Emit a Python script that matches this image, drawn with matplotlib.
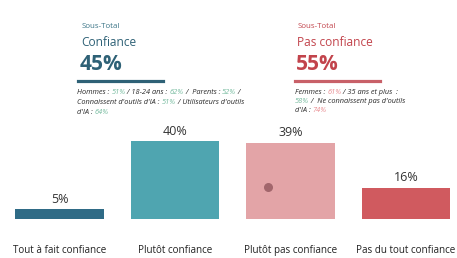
import matplotlib
matplotlib.use("Agg")
import matplotlib.pyplot as plt

categories = [
    "Tout à fait confiance",
    "Plutôt confiance",
    "Plutôt pas confiance",
    "Pas du tout confiance",
]
values = [5, 40, 39, 16]
value_labels = ["5%", "40%", "39%", "16%"]
bar_colors = ["#2f6b86", "#4fa5b0", "#e3a4a7", "#d05a5f"]

left_title = ["Sous-Total", "Confiance", "45%"]
right_title = ["Sous-Total", "Pas confiance", "55%"]

# note lines: list of (text, is_percentage) segments
left_notes = [
    [("Hommes : ", False), ("51%", True), (" / 18-24 ans : ", False), ("62%", True),
     (" /  Parents : ", False), ("52%", True), (" /", False)],
    [("Connaissent d'outils d'IA : ", False), ("51%", True),
     (" / Utilisateurs d'outils", False)],
    [("d'IA : ", False), ("64%", True)],
]
right_notes = [
    [("Femmes : ", False), ("61%", "pink"), (" / 35 ans et plus  :", False)],
    [("58%", True), (" /  Ne connaissent pas d'outils", False)],
    [("d'IA : ", False), ("74%", "pink")],
]

W, H = 457, 258
FONT = ["Open Sans", "DejaVu Sans"]

fig = plt.figure(figsize=(W / 100, H / 100), dpi=100)
fig.patch.set_facecolor("white")

# bar axes: baseline at 219 px from top, 1.95 px per percent
base_px = 219
ax = fig.add_axes([0, (H - base_px) / H, 1, base_px / H])
step = 115.5
x0 = 59.5
ax.set_xlim(-x0 / step, (W - x0) / step)
ax.set_ylim(0, base_px / 1.95)
ax.axis("off")

xs = list(range(len(categories)))
bars = ax.bar(xs, values, width=0.77, color=bar_colors)
for b, lab in zip(bars, value_labels):
    ax.annotate(lab, (b.get_x() + b.get_width() / 2, b.get_height()),
                xytext=(0, 2.5), textcoords="offset points",
                ha="center", va="bottom", fontsize=9, color="#333333",
                family=FONT)
for x, cat in zip(xs, categories):
    ax.annotate(cat, (x, 0), xytext=(0, -22.5), textcoords="offset points",
                ha="center", va="center", fontsize=7.1, color="#222222",
                family=FONT)

# small dot on the third bar
ax.scatter([1.805], [16.4], s=30, color="#a2666c", zorder=3)


def fy(py):
    return (H - py) / H


def fx(px):
    return px / W


def header(x, title, main_color, sub_color):
    fig.text(fx(x), fy(26), title[0], fontsize=5.7, color=sub_color,
             family=FONT, va="center")
    fig.text(fx(x - 1), fy(43), title[1], fontsize=8.6, color=main_color,
             family=FONT, va="center")
    fig.text(fx(x - 2), fy(65), title[2], fontsize=15, color=main_color,
             family=FONT, va="center", fontweight="bold")


header(82, left_title, "#2e6176", "#3a7486")
header(298, right_title, "#c2444c", "#c2444c")

fig.add_artist(plt.Line2D([fx(78), fx(163)], [fy(81), fy(81)],
                          color="#2e6176", lw=2.3))
fig.add_artist(plt.Line2D([fx(295), fx(380)], [fy(81), fy(81)],
                          color="#c86068", lw=2.3))

renderer = fig.canvas.get_renderer()


def notes(x, top, lines):
    for i, line in enumerate(lines):
        cx = x
        for txt, pct in line:
            if pct == "pink":
                col = "#e8898e"
            elif pct:
                col = "#72b99c"
            else:
                col = "#2a2a2a"
            t = fig.text(fx(cx), fy(top + i * 9.5), txt, fontsize=5.3,
                         color=col, family=FONT, style="italic", va="center")
            bb = t.get_window_extent(renderer)
            cx += bb.width


notes(77, 93, left_notes)
notes(295, 92, right_notes)

fig.savefig("out.png", dpi=100, facecolor="white")
